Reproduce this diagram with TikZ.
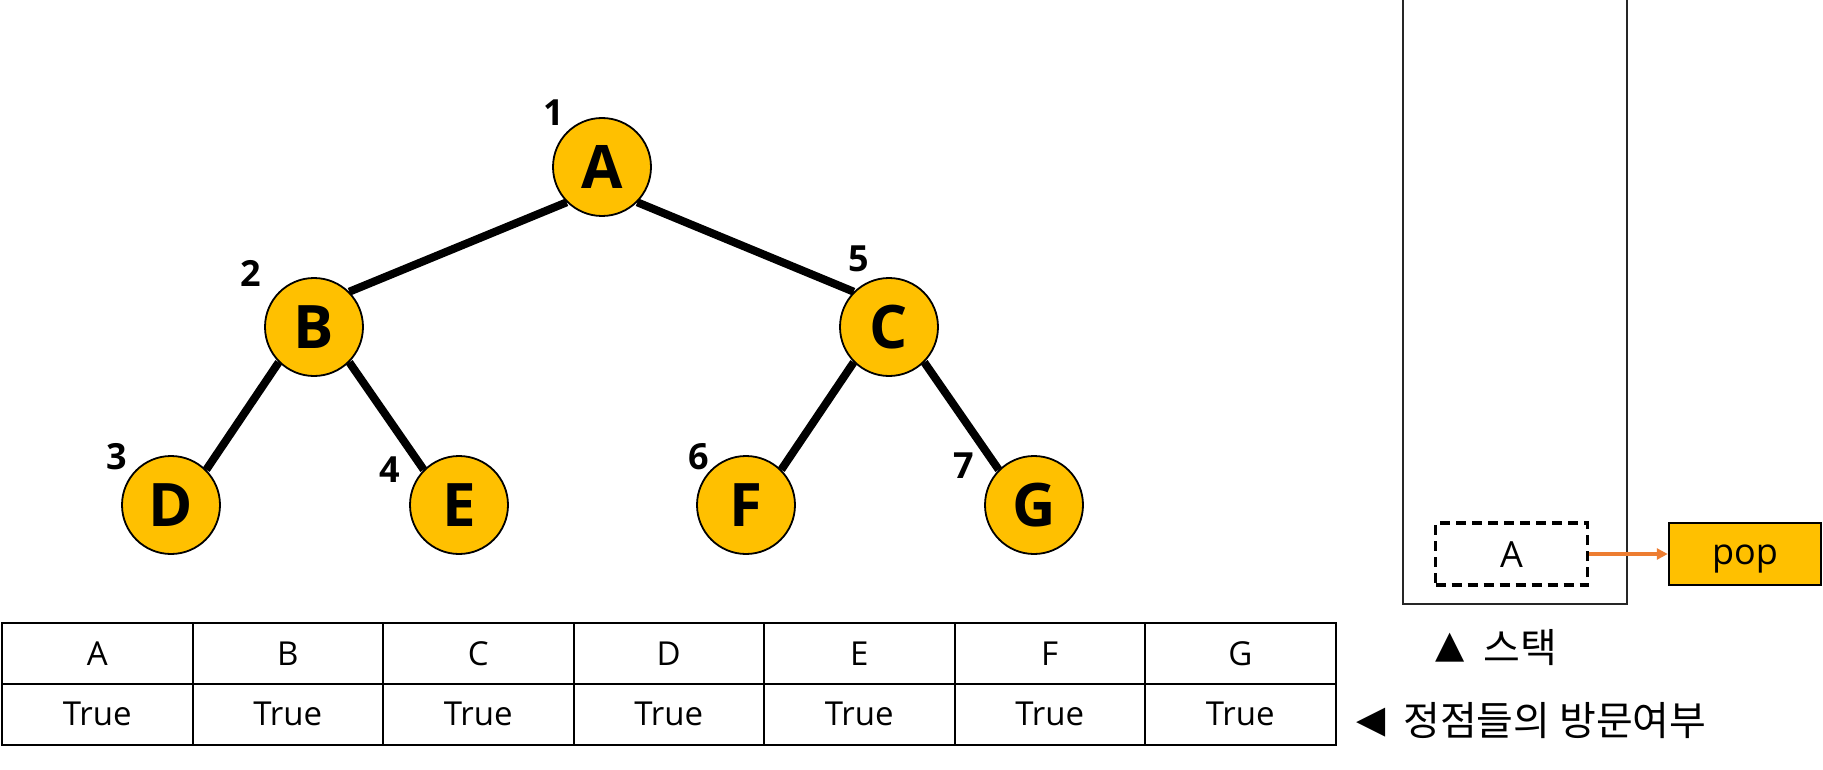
\documentclass[tikz,border=0pt]{standalone}
\usepackage{fontspec}
\setmainfont{Open Sans}
\newfontfamily\krfont{Noto Sans CJK KR}
\newfontfamily\symfont{DejaVu Sans}
\usetikzlibrary{arrows.meta}
\definecolor{gold}{HTML}{FFC000}
\definecolor{orangeline}{HTML}{ED7D31}
\tikzset{
  vert/.style={circle,draw=black,line width=1.8pt,fill=gold,minimum size=98pt,inner sep=0pt,font=\fontsize{60}{60}\selectfont\bfseries},
  edge/.style={line width=8pt,black},
  order/.style={font=\fontsize{36}{36}\selectfont\bfseries,inner sep=0pt},
  cell/.style={draw=black,line width=2pt,minimum width=190.5pt,minimum height=61pt,inner sep=0pt,font=\fontsize{33}{33}\selectfont},
  stackline/.style={line width=2pt,black!85},
  caption/.style={font=\krfont\fontsize{40}{40}\selectfont,inner sep=0pt,anchor=west},
  boxlabel/.style={minimum width=152pt,minimum height=62pt,inner sep=0pt,font=\fontsize{36}{36}\selectfont,text depth=0pt}
}
\begin{document}
\begin{tikzpicture}[x=1pt,y=-1pt]
\useasboundingbox (0,0) rectangle (1823,770);
% tree nodes
\node[vert] (A) at (602,167) {A};
\node[vert] (B) at (314,327) {B};
\node[vert] (C) at (889,327) {C};
\node[vert] (D) at (171,505) {D};
\node[vert] (E) at (459,505) {E};
\node[vert] (F) at (746,505) {F};
\node[vert] (G) at (1034,505) {G};
\draw[edge] (A.south west) -- (B.north east);
\draw[edge] (A.south east) -- (C.north west);
\draw[edge] (B.south west) -- (D.north east);
\draw[edge] (B.south east) -- (E.north west);
\draw[edge] (C.south west) -- (F.north east);
\draw[edge] (C.south east) -- (G.north west);
% visit order
\node[order] (n1) at (554,113) {1};
\node[order] (n2) at (251,273) {2};
\node[order] (n3) at (117,457) {3};
\node[order] (n4) at (390,470) {4};
\node[order] (n5) at (859,259) {5};
\node[order] (n6) at (699,457) {6};
\node[order] (n7) at (964,466) {7};
% table
\foreach \l [count=\i from 0] in {A,B,C,D,E,F,G}{
  \node[cell] (h\l) at ({2+190.5*\i+95.25},653.5) {\l};
  \node[cell] (t\l) at ({2+190.5*\i+95.25},714) {True};
}
% stack
\coordinate (s1) at (1403,0);
\coordinate (s2) at (1403,604);
\coordinate (s3) at (1627,604);
\coordinate (s4) at (1627,0);
\draw[stackline] (s1) -- (s2) -- (s3) -- (s4);
\node[boxlabel,draw=black,line width=3.5pt,dash pattern=on 10pt off 6pt,text height=26pt] (sa) at (1511.5,554) {A};
\node[boxlabel,draw=black,line width=2.5pt,fill=gold,text height=20pt] (pop) at (1745,554) {pop};
\draw[orangeline,line width=4pt,-{Triangle[length=11pt,width=11pt]}] (sa.east) -- (pop.west);
% captions
\node[font=\symfont\fontsize{38}{38}\selectfont,inner sep=0pt] (tri1) at (1450,648) {▲};
\node[caption] (cap1) at (1483,648) {스택};
\node[font=\symfont\fontsize{38}{38}\selectfont,inner sep=0pt] (tri2) at (1371,723) {◀};
\node[caption] (cap2) at (1403,721) {정점들의 방문여부};
\end{tikzpicture}
\end{document}
